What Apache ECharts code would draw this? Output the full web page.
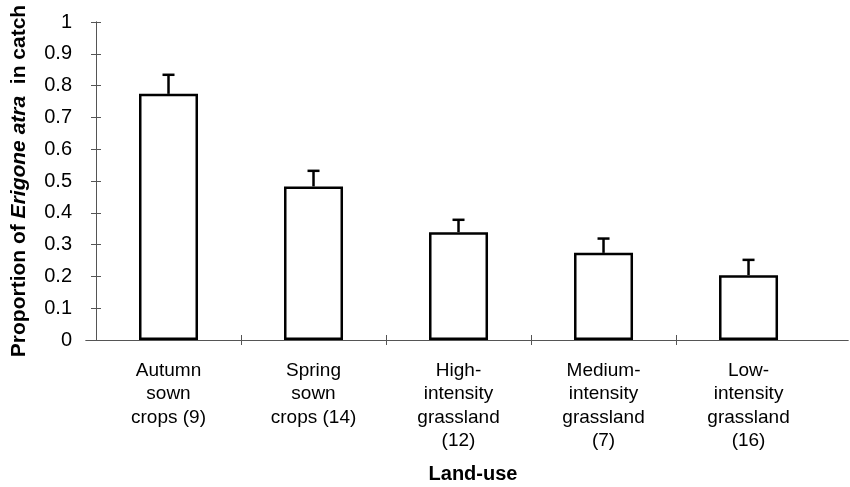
<!DOCTYPE html>
<html>
<head>
<meta charset="utf-8">
<script src="https://cdn.jsdelivr.net/npm/echarts@6/dist/echarts.min.js"></script>
<style>html,body{margin:0;padding:0;background:#fff}#c{width:850px;height:487px}</style>
</head>
<body>
<div id="c"></div>
<script>
const categories = [
  "Autumn\nsown\ncrops (9)",
  "Spring\nsown\ncrops (14)",
  "High-\nintensity\ngrassland\n(12)",
  "Medium-\nintensity\ngrassland\n(7)",
  "Low-\nintensity\ngrassland\n(16)"
];
const values = [0.774, 0.483, 0.339, 0.274, 0.204];
const errors = [0.060, 0.049, 0.039, 0.045, 0.048];
const yTicks = [0, 0.1, 0.2, 0.3, 0.4, 0.5, 0.6, 0.7, 0.8, 0.9, 1];

const centers = categories.map((c, i) => i + 0.5);
const boundaries = [1, 2, 3, 4];
const barData = values.map((v, i) => [centers[i], v]);
const errData = values.map((v, i) => [centers[i], v, v + errors[i]]);

const FONT = "Liberation Sans, Arial, sans-serif";
const chart = echarts.init(document.getElementById('c'), null, {renderer: 'canvas'});

const axisLineStyle = {color: '#555', width: 1};
const xBase = {
  type: 'value', min: -0.069, max: 5.186, position: 'bottom',
  splitLine: {show: false},
  axisLine: {show: true, onZero: false, lineStyle: axisLineStyle}
};
const yBase = {
  type: 'value', min: 0, max: 1, interval: 0.1, position: 'left',
  splitLine: {show: false},
  axisLine: {show: true, lineStyle: axisLineStyle}
};

chart.setOption({
  animation: false,
  backgroundColor: '#fff',
  grid: {left: 86, right: 2, top: 22, bottom: 147, containLabel: false, outerBoundsMode: 'none'},
  xAxis: [
    Object.assign({}, xBase, {
      axisTick: {show: true, inside: false, length: 5, customValues: boundaries, lineStyle: axisLineStyle},
      axisLabel: {
        show: true, customValues: centers, margin: 19,
        formatter: v => categories[Math.round(v - 0.5)] || '',
        color: '#000', fontFamily: FONT, fontSize: 19, lineHeight: 23.5, align: 'center'
      },
      name: 'Land-use', nameLocation: 'middle', nameGap: 124,
      nameTextStyle: {color: '#000', fontFamily: FONT, fontSize: 20, fontWeight: 'bold', padding: [0, 0, 0, 12]}
    }),
    Object.assign({}, xBase, {
      axisTick: {show: true, inside: true, length: 5, customValues: boundaries, lineStyle: axisLineStyle},
      axisLabel: {show: false}
    })
  ],
  yAxis: [
    Object.assign({}, yBase, {
      axisTick: {show: true, inside: false, length: 5, lineStyle: axisLineStyle},
      axisLabel: {
        show: true, margin: 14, color: '#000', fontFamily: FONT, fontSize: 20,
        formatter: v => String(yTicks[Math.round(v * 10)])
      },
      name: '{b|Proportion of }{bi|Erigone atra}{b|  in catch}',
      nameLocation: 'middle', nameGap: 56, nameRotate: 90,
      nameTextStyle: {
        rich: {
          b: {fontFamily: FONT, fontSize: 21, fontWeight: 'bold', color: '#000'},
          bi: {fontFamily: FONT, fontSize: 21, fontWeight: 'bold', fontStyle: 'italic', color: '#000'}
        }
      }
    }),
    Object.assign({}, yBase, {
      axisTick: {show: true, inside: true, length: 5, lineStyle: axisLineStyle},
      axisLabel: {show: false}
    })
  ],
  series: [
    {
      type: 'bar', xAxisIndex: 0, yAxisIndex: 0,
      data: barData, barWidth: 59,
      itemStyle: {color: '#fff', borderColor: '#000', borderWidth: 2.5},
      z: 3
    },
    {
      type: 'custom', xAxisIndex: 0, yAxisIndex: 0,
      data: errData,
      z: 4,
      renderItem: function (params, api) {
        const base = api.coord([api.value(0), api.value(1)]);
        const top = api.coord([api.value(0), api.value(2)]);
        const half = 6;
        const style = {stroke: '#000', lineWidth: 2.5};
        return {
          type: 'group',
          children: [
            {type: 'line', shape: {x1: base[0], y1: base[1], x2: top[0], y2: top[1]}, style: style},
            {type: 'line', shape: {x1: top[0] - half, y1: top[1], x2: top[0] + half, y2: top[1]}, style: style}
          ]
        };
      }
    }
  ]
});
</script>
</body>
</html>
